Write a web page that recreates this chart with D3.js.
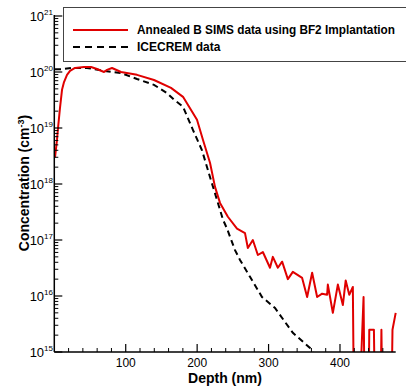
<!DOCTYPE html>
<html>
<head>
<meta charset="utf-8">
<script src="https://cdn.jsdelivr.net/npm/d3@7/dist/d3.min.js"></script>
<style>
  body { margin: 0; background: #fff; }
  text { font-family: "Liberation Sans", Arial, sans-serif; }
</style>
</head>
<body>
<script>
// SIMS profile (depth nm, concentration cm^-3); 1e14 = below detection
const simsDepth = [1, 3.8, 5.2, 8, 10.8, 13.6, 17.8, 22, 29, 41.6, 51.4, 59.8, 69.6, 73.8, 80.8, 93.4, 115.8, 139.6, 163.4, 180.2, 199.8, 208.2, 218, 225, 232, 243, 255.8, 267, 271, 278, 285, 292, 302, 306, 313, 319, 327, 334, 347, 354, 361, 368, 375, 382, 383, 390, 397, 404, 408, 413, 418, 419.5, 427, 433, 434.5, 440, 441, 447.5, 449, 456.7, 458, 459.4, 472, 473.5, 478];
const simsConc = [3.0e18, 6.2e18, 1.0e19, 2.3e19, 4.8e19, 6.6e19, 8.9e19, 1.05e20, 1.18e20, 1.23e20, 1.23e20, 1.13e20, 1.0e20, 1.09e20, 1.18e20, 1.0e20, 8.9e19, 7.2e19, 5.2e19, 3.6e19, 1.4e19, 6.1e18, 2.4e18, 8.9e17, 4.6e17, 2.6e17, 1.6e17, 1.33e17, 7.2e16, 1.0e17, 5.4e16, 6.1e16, 3.2e16, 5.0e16, 3.2e16, 4.1e16, 2.0e16, 2.7e16, 2.1e16, 9.6e15, 2.6e16, 9.6e15, 1.1e16, 1.05e16, 1.6e16, 5.0e15, 1.6e16, 6.9e15, 1.9e16, 1.05e16, 1.45e16, 1e14, 1e14, 9.6e15, 1e14, 1e14, 2.5e15, 2.5e15, 1e14, 1e14, 2.5e15, 1e14, 1e14, 2.5e15, 5.0e15];

// ICECREM simulation
const simDepth = [1, 9.4, 23.4, 45.8, 69.6, 93.4, 115.8, 139.6, 157.8, 167.6, 180.2, 194.2, 206.8, 218, 227.8, 236.2, 241.8, 253, 260, 274, 290.8, 309, 334, 358, 362];
const simConc = [1.12e20, 1.12e20, 1.18e20, 1.18e20, 1.05e20, 9.6e19, 7.5e19, 5.9e19, 4.2e19, 3.2e19, 2.4e19, 9.2e18, 4.0e18, 1.33e18, 5.2e17, 2.3e17, 1.6e17, 6.6e16, 4.4e16, 2.2e16, 9.6e15, 6.1e15, 2.2e15, 1.18e15, 9.6e14];

const xTicks = [100, 200, 300, 400];
const yDecades = [15, 16, 17, 18, 19, 20, 21];
const legendLabels = ['Annealed B SIMS data using BF2 Implantation', 'ICECREM data'];

let width = 406, height = 388;
let mLeft = 54.3, mRight = 395.7, mTop = 16, mBottom = 352;

let svg = d3.select('body').append('svg')
    .attr('width', width)
    .attr('height', height);

let xScale = d3.scaleLinear().domain([0, 478]).range([mLeft, mRight]);
let yScale = d3.scaleLog().domain([1e15, 1e21]).range([mBottom, mTop]);

svg.append('clipPath').attr('id', 'plot')
    .append('rect')
    .attr('x', mLeft).attr('y', 0)
    .attr('width', mRight - mLeft + 4).attr('height', mBottom);

let line = d3.line().x(d => xScale(d[0])).y(d => yScale(d[1]));

// curves
svg.append('path')
    .datum(simDepth.map((d, i) => [d, simConc[i]]))
    .attr('d', line)
    .attr('clip-path', 'url(#plot)')
    .attr('fill', 'none')
    .attr('stroke', '#000')
    .attr('stroke-width', 2)
    .attr('stroke-dasharray', '6,4');

svg.append('path')
    .datum(simsDepth.map((d, i) => [d, simsConc[i]]))
    .attr('d', line)
    .attr('clip-path', 'url(#plot)')
    .attr('fill', 'none')
    .attr('stroke', '#e00000')
    .attr('stroke-width', 2)
    .attr('stroke-linejoin', 'round');

// axes lines
let axes = svg.append('g').attr('stroke', '#000').attr('stroke-width', 1.5);
axes.append('line').attr('x1', mLeft).attr('x2', mLeft).attr('y1', mTop - 1).attr('y2', mBottom);
axes.append('line').attr('x1', mLeft).attr('x2', mRight).attr('y1', mBottom).attr('y2', mBottom);

// y ticks, major + minor, pointing inward
let yMinor = [];
yDecades.slice(0, -1).forEach(p => {
  for (let m = 2; m <= 9; m++) yMinor.push(m * Math.pow(10, p));
});
axes.selectAll('.ymin').data(yMinor).enter().append('line')
    .attr('stroke-width', 1)
    .attr('x1', mLeft).attr('x2', mLeft + 4)
    .attr('y1', d => yScale(d)).attr('y2', d => yScale(d));
axes.selectAll('.ymaj').data(yDecades).enter().append('line')
    .attr('stroke-width', 1.2)
    .attr('x1', mLeft).attr('x2', mLeft + 8)
    .attr('y1', d => yScale(Math.pow(10, d))).attr('y2', d => yScale(Math.pow(10, d)));

// x ticks
let xMinor = d3.range(20, 478, 20).filter(v => v % 100 !== 0);
axes.selectAll('.xmin').data(xMinor).enter().append('line')
    .attr('stroke-width', 1)
    .attr('x1', d => xScale(d)).attr('x2', d => xScale(d))
    .attr('y1', mBottom).attr('y2', mBottom - 4);
axes.selectAll('.xmaj').data(xTicks).enter().append('line')
    .attr('stroke-width', 1.2)
    .attr('x1', d => xScale(d)).attr('x2', d => xScale(d))
    .attr('y1', mBottom).attr('y2', mBottom - 8);

// tick labels
svg.selectAll('.xlab').data(xTicks).enter().append('text')
    .attr('x', d => xScale(d))
    .attr('y', 367)
    .attr('text-anchor', 'middle')
    .attr('font-size', 12)
    .text(d => d);

let ylab = svg.selectAll('.ylab').data(yDecades).enter().append('text')
    .attr('x', 53)
    .attr('y', d => yScale(Math.pow(10, d)) + 5)
    .attr('text-anchor', 'end')
    .attr('font-size', 13);
ylab.append('tspan').text('10');
ylab.append('tspan').attr('dy', -6).attr('font-size', 8).text(d => d);

// axis titles
svg.append('text')
    .attr('x', 225).attr('y', 383)
    .attr('text-anchor', 'middle')
    .attr('font-size', 14)
    .attr('font-weight', 'bold')
    .text('Depth (nm)');

let yt = svg.append('text')
    .attr('transform', 'translate(29,183) rotate(-90)')
    .attr('text-anchor', 'middle')
    .attr('font-size', 14)
    .attr('font-weight', 'bold');
yt.append('tspan').text('Concentration (cm');
yt.append('tspan').attr('dy', -5).attr('font-size', 9).text('-3');
yt.append('tspan').attr('dy', 5).text(')');

// legend
let legend = svg.append('g');
legend.append('rect')
    .attr('x', 63.5).attr('y', 7.5)
    .attr('width', 360).attr('height', 54)
    .attr('fill', '#fff')
    .attr('stroke', '#444')
    .attr('stroke-width', 1);
legend.append('line')
    .attr('x1', 73).attr('x2', 128).attr('y1', 30).attr('y2', 30)
    .attr('stroke', '#e00000').attr('stroke-width', 2);
legend.append('line')
    .attr('x1', 73).attr('x2', 128).attr('y1', 47).attr('y2', 47)
    .attr('stroke', '#000').attr('stroke-width', 2)
    .attr('stroke-dasharray', '7,5');
legend.selectAll('.ltext').data(legendLabels).enter().append('text')
    .attr('x', 137)
    .attr('y', (d, i) => 34 + i * 17)
    .attr('font-size', 12)
    .attr('font-weight', 'bold')
    .attr('textLength', (d, i) => i === 0 ? 258 : null)
    .attr('lengthAdjust', 'spacingAndGlyphs')
    .text(d => d);
</script>
</body>
</html>
